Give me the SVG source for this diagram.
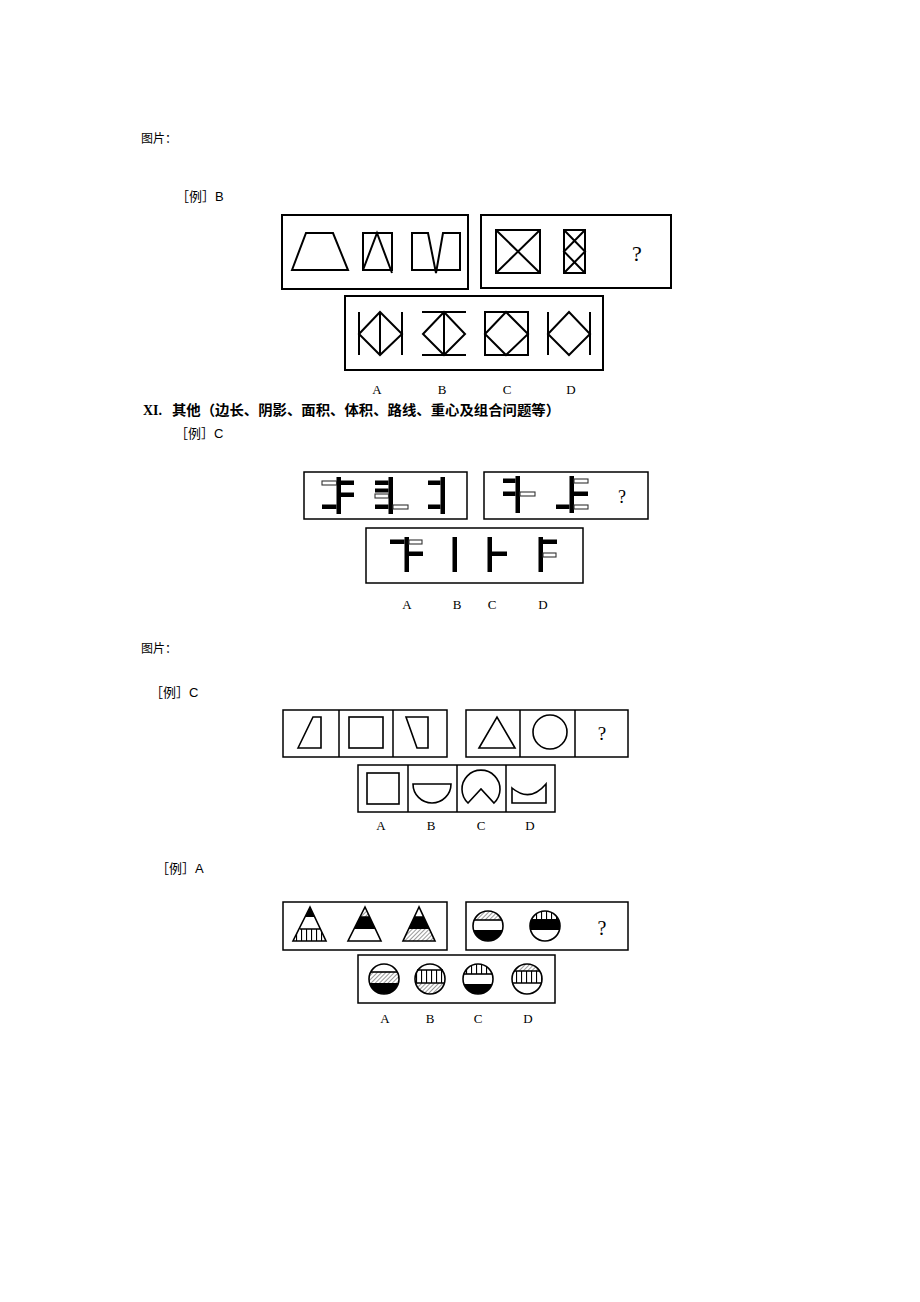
<svg xmlns="http://www.w3.org/2000/svg" width="920" height="1302" viewBox="0 0 920 1302">
<style>
.t{font-family:"Liberation Serif","Noto Sans CJK SC",serif;fill:#000}
.cj{font-family:"Noto Sans CJK SC",sans-serif;fill:#000}
.box{fill:none;stroke:#000;stroke-width:2}
.box2{fill:none;stroke:#000;stroke-width:1.5}
.s{fill:none;stroke:#000;stroke-width:2;stroke-linejoin:miter}
.s2{fill:none;stroke:#000;stroke-width:1.6}
.bk{fill:#000}
.wt{fill:#fff;stroke:#333;stroke-width:1.1}
.lab{font-family:"Liberation Serif",serif;font-size:13px;fill:#000;text-anchor:middle}
.q{font-family:"Liberation Serif",serif;fill:#000;text-anchor:middle}
</style>
<defs>
<pattern id="diag" width="3" height="3" patternUnits="userSpaceOnUse" patternTransform="rotate(45)">
<rect width="3" height="3" fill="#fff"/>
<line x1="0" y1="0" x2="0" y2="3" stroke="#444" stroke-width="1.1"/>
</pattern>
<pattern id="vs" width="5" height="10" patternUnits="userSpaceOnUse" x="1">
<rect width="5" height="10" fill="#fff"/>
<line x1="0.5" y1="0" x2="0.5" y2="10" stroke="#000" stroke-width="1.2"/>
</pattern>
<clipPath id="ct1"><path d="M310,907 L293,941 L326,941 Z"/></clipPath>
<clipPath id="ct2"><path d="M365,907 L348,941 L381,941 Z"/></clipPath>
<clipPath id="ct3"><path d="M419,907 L403,941 L435,941 Z"/></clipPath>
<clipPath id="cc1"><circle cx="488" cy="926" r="15"/></clipPath>
<clipPath id="cc2"><circle cx="545" cy="926" r="15"/></clipPath>
<clipPath id="cA"><circle cx="384" cy="979" r="15"/></clipPath>
<clipPath id="cB"><circle cx="430" cy="979" r="15"/></clipPath>
<clipPath id="cC"><circle cx="478" cy="979" r="15"/></clipPath>
<clipPath id="cD"><circle cx="527" cy="979" r="15"/></clipPath>
</defs>
<rect width="920" height="1302" fill="#fff"/>

<g id="texts">
<text class="cj" x="141" y="143" font-size="12">图片：</text>
<text class="cj" x="176" y="201" font-size="13">［例］<tspan font-family="Liberation Sans">B</tspan></text>
<text x="143" y="415" font-family="Liberation Serif" font-weight="bold" font-size="14">XI.</text>
<text class="cj" x="172" y="415" font-size="14" font-weight="bold" textLength="388" lengthAdjust="spacingAndGlyphs">其他（边长、阴影、面积、体积、路线、重心及组合问题等）</text>
<text class="cj" x="175" y="438" font-size="13">［例］<tspan font-family="Liberation Sans">C</tspan></text>
<text class="cj" x="141" y="653" font-size="12">图片：</text>
<text class="cj" x="150" y="697" font-size="13">［例］<tspan font-family="Liberation Sans">C</tspan></text>
<text class="cj" x="156" y="873" font-size="13">［例］<tspan font-family="Liberation Sans">A</tspan></text>
</g>

<g id="s1-q1">
<rect class="box" x="282" y="215" width="186" height="74"/>
<path class="s" d="M292,270 L306,233 L333,233 L348,270 Z"/>
<rect class="s" x="363" y="233" width="29" height="37"/>
<path class="s" d="M363,270 L377,233 L392,273"/>
<path class="s" d="M412,233 L428,233 L436,273 L443,233 L460,233 L460,270 L412,270 Z"/>
</g>
<g id="s1-q2">
<rect class="box" x="481" y="215" width="190" height="73"/>
<rect class="s" x="496" y="230" width="44" height="43"/>
<path class="s" d="M496,230 L540,273 M540,230 L496,273"/>
<rect class="s" x="564" y="230" width="21" height="43"/>
<path class="s" d="M564,230 L585,251.5 L564,273 M585,230 L564,251.5 L585,273"/>
<text class="q" x="637" y="261" font-size="22">?</text>
</g>
<g id="s1-opts">
<rect class="box" x="345" y="296" width="258" height="74"/>
<path class="s" d="M359,312 L359,355 M380,312 L380,355 M402,312 L402,355 M359,334 L380,312 L402,334 L380,355 Z"/>
<path class="s" d="M422,312 L466,312 M422,355 L466,355 M444,312 L444,355 M423,334 L444,312 L465,334 L444,355 Z"/>
<rect class="s" x="485" y="312" width="43" height="43"/>
<path class="s" d="M485,334 L506,312 L528,334 L506,355 Z"/>
<path class="s" d="M548,312 L548,355 M590,312 L590,355 M548,334 L569,312 L590,334 L569,355 Z"/>
<text class="lab" x="377" y="394">A</text>
<text class="lab" x="442" y="394">B</text>
<text class="lab" x="507" y="394">C</text>
<text class="lab" x="571" y="394">D</text>
</g>

<g id="s2-q1">
<rect class="box2" x="304" y="472" width="163" height="47"/>
<rect class="bk" x="336.5" y="477" width="4.5" height="37"/>
<rect class="wt" x="322" y="481" width="14.5" height="4"/>
<rect class="bk" x="341" y="480.5" width="13" height="4.5"/>
<rect class="bk" x="341" y="492.5" width="13" height="4.5"/>
<rect class="bk" x="322" y="504.5" width="14.5" height="4.5"/>
<rect class="bk" x="388.5" y="477" width="4.5" height="37"/>
<rect class="bk" x="375" y="480.5" width="13.5" height="4.5"/>
<rect class="bk" x="375" y="488.5" width="13.5" height="4"/>
<rect class="wt" x="375" y="494" width="13.5" height="4"/>
<rect class="bk" x="375" y="504.5" width="13.5" height="4.5"/>
<rect class="wt" x="393" y="505" width="15" height="4"/>
<rect class="bk" x="440.5" y="477" width="4.5" height="37"/>
<rect class="bk" x="428" y="480.5" width="12.5" height="4.5"/>
<rect class="bk" x="428" y="504.5" width="12.5" height="4.5"/>
</g>
<g id="s2-q2">
<rect class="box2" x="484" y="472" width="164" height="47"/>
<rect class="bk" x="515.5" y="476" width="4.5" height="37"/>
<rect class="bk" x="503" y="478.5" width="12.5" height="4.5"/>
<rect class="bk" x="503" y="491.5" width="12.5" height="4.5"/>
<rect class="wt" x="520" y="492" width="15" height="4"/>
<rect class="bk" x="569.5" y="476" width="4.5" height="37"/>
<rect class="wt" x="574" y="479" width="14" height="4"/>
<rect class="bk" x="574" y="491.5" width="14" height="4.5"/>
<rect class="bk" x="556" y="504.5" width="13.5" height="4.5"/>
<rect class="wt" x="574" y="505" width="14" height="4"/>
<text class="q" x="622" y="503" font-size="18">?</text>
</g>
<g id="s2-opts">
<rect class="box2" x="366" y="528" width="217" height="55"/>
<rect class="bk" x="404.5" y="537" width="4.5" height="35"/>
<rect class="bk" x="390" y="539.5" width="14.5" height="4.5"/>
<rect class="wt" x="409" y="540" width="13" height="4"/>
<rect class="bk" x="409" y="551.5" width="14" height="4.5"/>
<rect class="bk" x="452.5" y="537" width="4.5" height="35"/>
<rect class="bk" x="487.5" y="537" width="4.5" height="35"/>
<rect class="bk" x="492" y="551.5" width="15" height="4.5"/>
<rect class="bk" x="538.5" y="537" width="4.5" height="35"/>
<rect class="bk" x="543" y="539.5" width="14" height="4.5"/>
<rect class="wt" x="543" y="553" width="13" height="4"/>
<text class="lab" x="407" y="609">A</text>
<text class="lab" x="457" y="609">B</text>
<text class="lab" x="492" y="609">C</text>
<text class="lab" x="543" y="609">D</text>
</g>

<g id="s3-q1">
<rect class="box2" x="283" y="710" width="164" height="47"/>
<path class="box2" d="M339,710 L339,757 M393,710 L393,757"/>
<path class="s2" d="M298,748 L313,717 L321,717 L321,748 Z"/>
<rect class="s2" x="349" y="717" width="34" height="31"/>
<path class="s2" d="M406,717 L428,717 L428,748 L417,748 Z"/>
</g>
<g id="s3-q2">
<rect class="box2" x="466" y="710" width="162" height="47"/>
<path class="box2" d="M520,710 L520,757 M575,710 L575,757"/>
<path class="s2" d="M479,748 L497,717 L515,748 Z"/>
<circle class="s2" cx="550" cy="732" r="17"/>
<text class="q" x="602" y="740" font-size="19">?</text>
</g>
<g id="s3-opts">
<rect class="box2" x="358" y="765" width="197" height="47"/>
<path class="box2" d="M408,765 L408,812 M457,765 L457,812 M506,765 L506,812"/>
<rect class="s2" x="367" y="773" width="32" height="31"/>
<path class="s2" d="M413,784 L451,784 A19,19 0 0 1 413,784 Z"/>
<path class="s2" d="M468,803 L481,789 L494,803 A19,19 0 1 0 468,803 Z"/>
<path class="s2" d="M512,788 L512,803 L546,803 L546,784 Q530,803 512,788 Z"/>
<text class="lab" x="381" y="830">A</text>
<text class="lab" x="431" y="830">B</text>
<text class="lab" x="481" y="830">C</text>
<text class="lab" x="530" y="830">D</text>
</g>

<g id="s4-q1">
<rect class="box2" x="283" y="902" width="164" height="48"/>
<g clip-path="url(#ct1)">
<rect x="290" y="905" width="40" height="12" fill="#000"/>
<rect x="290" y="917" width="40" height="12" fill="#fff"/>
<rect x="290" y="929" width="40" height="13" fill="url(#vs)"/>
</g>
<path class="s2" d="M310,907 L293,941 L326,941 Z M300,929 L321,929"/>
<g clip-path="url(#ct2)">
<rect x="345" y="905" width="40" height="12" fill="url(#diag)"/>
<rect x="345" y="917" width="40" height="12" fill="#000"/>
<rect x="345" y="929" width="40" height="13" fill="#fff"/>
</g>
<path class="s2" d="M365,907 L348,941 L381,941 Z M360,917 L370,917"/>
<g clip-path="url(#ct3)">
<rect x="400" y="905" width="40" height="12" fill="#fff"/>
<rect x="400" y="917" width="40" height="12" fill="#000"/>
<rect x="400" y="929" width="40" height="13" fill="url(#diag)"/>
</g>
<path class="s2" d="M419,907 L403,941 L435,941 Z M414,917 L424,917"/>
</g>
<g id="s4-q2">
<rect class="box2" x="466" y="902" width="162" height="48"/>
<g clip-path="url(#cc1)">
<rect x="470" y="910" width="40" height="10" fill="url(#diag)"/>
<rect x="470" y="920" width="40" height="10" fill="#fff"/>
<rect x="470" y="930" width="40" height="12" fill="#000"/>
</g>
<circle class="s2" cx="488" cy="926" r="15"/>
<path class="s2" d="M474,920 L502,920"/>
<g clip-path="url(#cc2)">
<rect x="528" y="910" width="40" height="9" fill="url(#vs)"/>
<rect x="528" y="919" width="40" height="11" fill="#000"/>
<rect x="528" y="930" width="40" height="12" fill="#fff"/>
</g>
<circle class="s2" cx="545" cy="926" r="15"/>
<text class="q" x="602" y="935" font-size="20">?</text>
</g>
<g id="s4-opts">
<rect class="box2" x="358" y="955" width="197" height="48"/>
<g clip-path="url(#cA)">
<rect x="366" y="963" width="40" height="9" fill="#fff"/>
<rect x="366" y="972" width="40" height="11" fill="url(#diag)"/>
<rect x="366" y="983" width="40" height="12" fill="#000"/>
</g>
<circle class="s2" cx="384" cy="979" r="15"/>
<path class="s2" d="M371,972 L397,972"/>
<g clip-path="url(#cB)">
<rect x="412" y="963" width="40" height="7" fill="#fff"/>
<rect x="412" y="970" width="40" height="13" fill="url(#vs)"/>
<rect x="412" y="983" width="40" height="12" fill="url(#diag)"/>
</g>
<circle class="s2" cx="430" cy="979" r="15"/>
<path class="s2" d="M417,970 L443,970 M415,983 L445,983"/>
<g clip-path="url(#cC)">
<rect x="460" y="963" width="40" height="11" fill="url(#vs)"/>
<rect x="460" y="974" width="40" height="10" fill="#fff"/>
<rect x="460" y="984" width="40" height="11" fill="#000"/>
</g>
<circle class="s2" cx="478" cy="979" r="15"/>
<path class="s2" d="M464,974 L492,974"/>
<g clip-path="url(#cD)">
<rect x="509" y="963" width="40" height="8" fill="url(#diag)"/>
<rect x="509" y="971" width="40" height="12" fill="url(#vs)"/>
<rect x="509" y="983" width="40" height="12" fill="#fff"/>
</g>
<circle class="s2" cx="527" cy="979" r="15"/>
<path class="s2" d="M514,971 L540,971 M512,983 L542,983"/>
<text class="lab" x="385" y="1023">A</text>
<text class="lab" x="430" y="1023">B</text>
<text class="lab" x="478" y="1023">C</text>
<text class="lab" x="528" y="1023">D</text>
</g>
</svg>
